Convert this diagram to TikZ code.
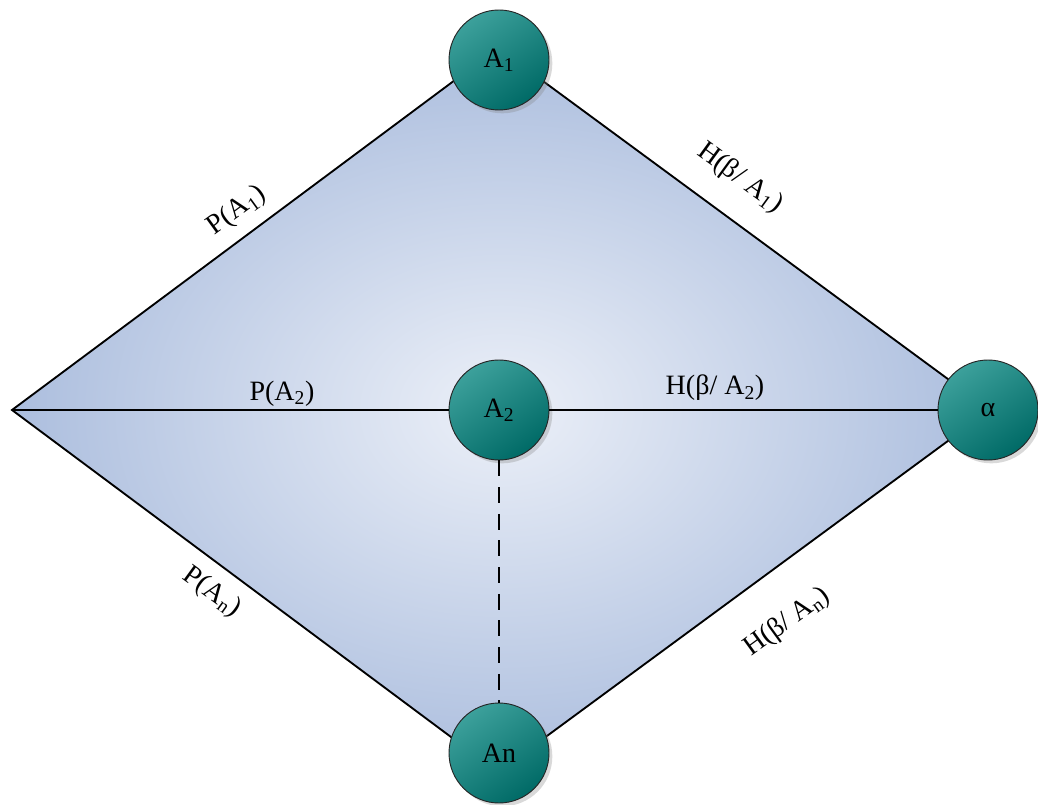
\documentclass[tikz,border=0pt]{standalone}
\usepackage{fontspec}
\setmainfont{Liberation Serif}
\usetikzlibrary{shadows}
\definecolor{tealdark}{RGB}{0,106,102}
\definecolor{teallight}{RGB}{60,160,155}
\definecolor{diaout}{RGB}{172,190,222}
\definecolor{diain}{RGB}{236,240,248}

\begin{document}
\begin{tikzpicture}[x=0.75pt,y=-0.75pt,
  ball/.style={circle,minimum size=75pt,inner sep=0pt,draw=black!85,line width=0.7pt,
    top color=teallight,bottom color=tealdark,shading angle=35,
    drop shadow={shadow xshift=2.5pt,shadow yshift=-2.5pt,opacity=0.3},
    font=\fontsize{21}{24}\selectfont},
  lbl/.style={font=\fontsize{21}{24}\selectfont},
  edge/.style={line width=1.4pt}]
\useasboundingbox (0,0) rectangle (1038,805);
\coordinate (L) at (12,410);
\coordinate (T) at (498,48);
\coordinate (R) at (990,410);
\coordinate (B) at (498,772);
\shade[inner color=diain,outer color=diaout] (L) -- (T) -- (R) -- (B) -- cycle;
\draw[edge] (L) -- (T) -- (R) -- (B) -- cycle;
\node[ball] (A1) at (499,60) {A\textsubscript{1}};
\node[ball] (A2) at (499,410) {A\textsubscript{2}};
\node[ball] (alpha) at (988,410) {α};
\node[ball] (An) at (499,753) {An};
\draw[edge] (L) -- (A2);
\draw[edge] (A2) -- (alpha);
\draw[edge,dash pattern=on 12pt off 8pt] (A2) -- (An);
\node[lbl,rotate=36] (pa1) at (237,211) {P(A\textsubscript{1})};
\node[lbl,rotate=-36] (ha1) at (740,178) {H(β/ A\textsubscript{1})};
\node[lbl] (pa2) at (282,394) {P(A\textsubscript{2})};
\node[lbl] (ha2) at (715,388) {H(β/ A\textsubscript{2})};
\node[lbl,rotate=-36] (pan) at (212,592) {P(A\textsubscript{n})};
\node[lbl,rotate=36] (han) at (787,622) {H(β/ A\textsubscript{n})};
\end{tikzpicture}
\end{document}
